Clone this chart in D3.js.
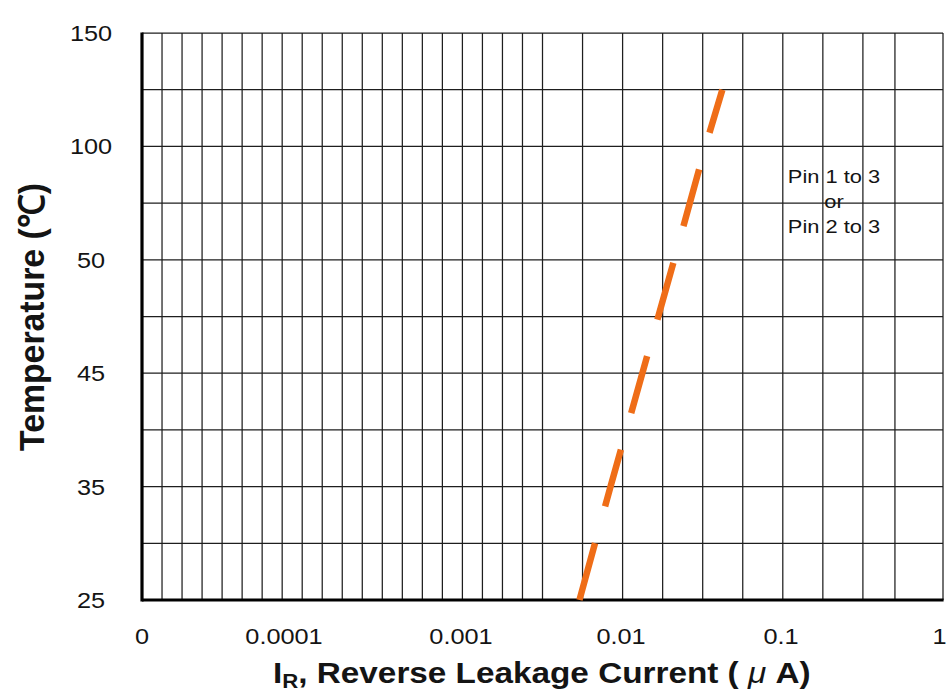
<!DOCTYPE html>
<html>
<head>
<meta charset="utf-8">
<script src="https://cdn.jsdelivr.net/npm/d3@7/dist/d3.min.js"></script>
<style>
  html, body { margin: 0; padding: 0; background: #fff; }
  svg { display: block; }
</style>
</head>
<body>
<svg id="chart" width="948" height="693"></svg>
<script>
// ---------- data ----------
const tempLevels = [25, 35, 45, 50, 100, 150];              // y category ticks (°C)
const tempMinor = [30, 40, 47.5, 75, 125];                   // minor gridlines between levels
const currentTickValues = [1e-5, 1e-4, 1e-3, 1e-2, 1e-1, 1]; // x decades (µA)
const currentTickLabels = ["0", "0.0001", "0.001", "0.01", "0.1", "1"];
const gridColumnUnits = [0,1,2,3,4,5,6,7,8,9,10,11,12,13,14,15,16,17,18,19,20,
                         22,24,26,28,30,32,34,36,37.6,40];   // vertical grid (chart paper units)
const seriesTemp = [25, 35, 45, 50, 100, 125];
const seriesCurrent = [0.0055, 0.0086, 0.0136, 0.0215, 0.0337, 0.043];
const annotationLines = ["Pin 1 to 3", "or", "Pin 2 to 3"];

// ---------- layout ----------
const plot = { left: 142, right: 943, top: 33, bottom: 600 };
const stretch = 1.15;   // horizontal stretch of the scanned text
const textColor = "#141414";

const svg = d3.select("#chart");

const x = d3.scaleLog()
  .domain(currentTickValues)
  .range([142, 284, 461, 621, 781, 939.5]);

const y = d3.scaleLinear()
  .domain(tempLevels)
  .range(tempLevels.map((d, i) => plot.bottom - i * (plot.bottom - plot.top) / (tempLevels.length - 1)));

const gridX = d3.scaleLinear().domain([0, 40]).range([plot.left, plot.right]);

// ---------- grid ----------
const grid = svg.append("g").attr("stroke", "#1e1e1e").attr("stroke-width", 1.25);

grid.selectAll("line.v").data(gridColumnUnits).join("line")
  .attr("class", "v")
  .attr("x1", d => gridX(d)).attr("x2", d => gridX(d))
  .attr("y1", plot.top).attr("y2", plot.bottom);

grid.selectAll("line.h").data(tempLevels.concat(tempMinor)).join("line")
  .attr("class", "h")
  .attr("x1", plot.left).attr("x2", plot.right)
  .attr("y1", d => y(d)).attr("y2", d => y(d));

// axes (thick left & bottom)
svg.append("line")
  .attr("x1", plot.left).attr("x2", plot.left)
  .attr("y1", plot.top - 0.5).attr("y2", plot.bottom + 1.5)
  .attr("stroke", "#000").attr("stroke-width", 3.2);
svg.append("line")
  .attr("x1", plot.left).attr("x2", plot.right + 0.6)
  .attr("y1", plot.bottom).attr("y2", plot.bottom)
  .attr("stroke", "#000").attr("stroke-width", 3);

// ---------- series ----------
const line = d3.line()
  .x((d, i) => x(seriesCurrent[i]))
  .y((d, i) => y(seriesTemp[i]));

svg.append("path")
  .datum(seriesTemp)
  .attr("d", line)
  .attr("fill", "none")
  .attr("stroke", "#ef6d17")
  .attr("stroke-width", 6.5)
  .attr("stroke-dasharray", "59,38")
  .attr("stroke-linecap", "butt");

// ---------- tick labels ----------
const font = "'Liberation Sans', Arial, Helvetica, sans-serif";

svg.append("g").selectAll("text").data(tempLevels).join("text")
  .attr("transform", d => `translate(91,${y(d)}) scale(${stretch},1)`)
  .attr("dy", "0.36em")
  .attr("text-anchor", "middle")
  .attr("font-family", font)
  .attr("font-size", 22)
  .attr("fill", textColor)
  .text(d => d);

svg.append("g").selectAll("text").data(currentTickValues).join("text")
  .attr("transform", d => `translate(${x(d)},644) scale(${stretch},1)`)
  .attr("text-anchor", "middle")
  .attr("font-family", font)
  .attr("font-size", 22)
  .attr("fill", textColor)
  .text((d, i) => currentTickLabels[i]);

// ---------- axis titles ----------
const xt = svg.append("text")
  .attr("transform", `translate(273,683) scale(1.11,1)`)
  .attr("font-family", font)
  .attr("font-weight", "bold")
  .attr("font-size", 30)
  .attr("fill", textColor);
xt.append("tspan").text("I");
xt.append("tspan").attr("font-size", 20).attr("dy", 5).text("R");
xt.append("tspan").attr("dy", -5).text(", Reverse Leakage Current ( ");
xt.append("tspan").attr("font-style", "italic").attr("font-weight", "normal").text("μ");
xt.append("tspan").text(" A)");

svg.append("text")
  .attr("transform", `translate(44,317) rotate(-90) scale(1,1.18)`)
  .attr("text-anchor", "middle")
  .attr("font-family", font)
  .attr("font-weight", "bold")
  .attr("font-size", 30)
  .attr("fill", textColor)
  .attr("textLength", 268)
  .attr("lengthAdjust", "spacingAndGlyphs")
  .text("Temperature (℃)");

// ---------- annotation ----------
svg.append("g").selectAll("text").data(annotationLines).join("text")
  .attr("transform", (d, i) => `translate(834,${183 + i * 25}) scale(${stretch},1)`)
  .attr("text-anchor", "middle")
  .attr("font-family", font)
  .attr("font-size", 19)
  .attr("fill", textColor)
  .text(d => d);
</script>
</body>
</html>
